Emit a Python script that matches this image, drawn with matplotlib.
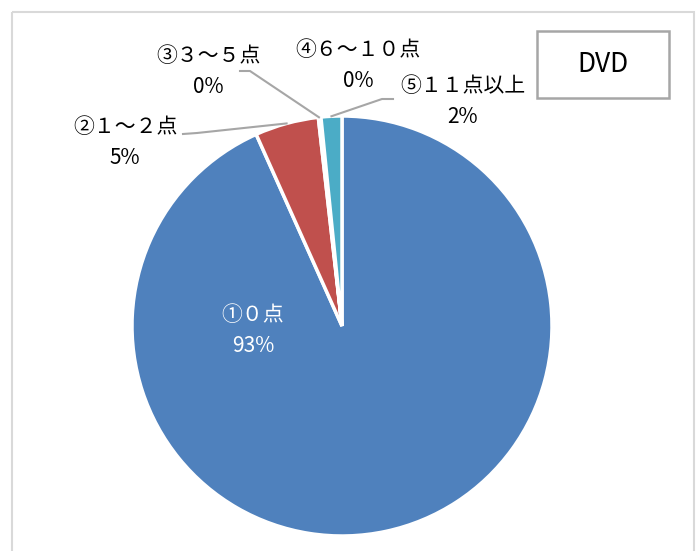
import matplotlib
matplotlib.use('Agg')
import matplotlib.pyplot as plt
from matplotlib.patches import Rectangle
import numpy as np

plt.rcParams['font.family'] = ['Noto Sans CJK JP', 'DejaVu Sans']

# data
labels = ['①０点', '②１～２点', '③３～５点', '④６～１０点', '⑤１１点以上']
values = [93.3, 4.9, 0.1, 0.1, 1.6]
colors = ['#4F81BD', '#C0504D', '#9BBB59', '#8064A2', '#4BACC6']
title = 'DVD'

# label layout in pixel coords (x, y of label centre), leader anchors
label_pos = [(253, 330), (125, 142), (208, 71), (358, 65), (463, 101)]
leader_from = [None, (183, 134), (240, 71), None, (393, 99)]
leader_knee = [None, (197, 133), (250, 71), None, (382, 99)]

W, H = 697, 551
cx, cy, r = 342, 326, 210

fig = plt.figure(figsize=(W / 100, H / 100), dpi=100)
ax = fig.add_axes([0, 0, 1, 1])

wedges, _ = ax.pie(values, colors=colors, center=(cx, cy), radius=r,
                   startangle=-90, counterclock=True,
                   wedgeprops=dict(edgecolor='white', linewidth=2.5))
ax.set_xlim(0, W)
ax.set_ylim(H, 0)
ax.set_aspect('equal')
ax.axis('off')

for i, (lab, v) in enumerate(zip(labels, values)):
    x, y = label_pos[i]
    col = 'white' if i == 0 else 'black'
    ax.text(x, y - 15, lab, ha='center', va='center', fontsize=15, color=col)
    ax.text(x, y + 16, f'{round(v):d}%', ha='center', va='center', fontsize=15, color=col)
    if leader_from[i] is not None:
        w = wedges[i]
        th = np.deg2rad((w.theta1 + w.theta2) / 2)
        ex, ey = cx + r * np.cos(th), cy + r * np.sin(th)
        (x0, y0), (x1, y1) = leader_from[i], leader_knee[i]
        ax.plot([x0, x1, ex], [y0, y1, ey], color='#A6A6A6', lw=1.5)

# outer chart border
ax.add_patch(Rectangle((12, 12), 682, 600, fill=False, edgecolor='#D9D9D9', lw=1.5))

# title box
ax.add_patch(Rectangle((537, 31), 132, 67, fill=False, edgecolor='#A6A6A6', lw=1.8))
ax.text(603, 64, title, ha='center', va='center', fontsize=19, color='black')

fig.savefig('out.png', dpi=100)
